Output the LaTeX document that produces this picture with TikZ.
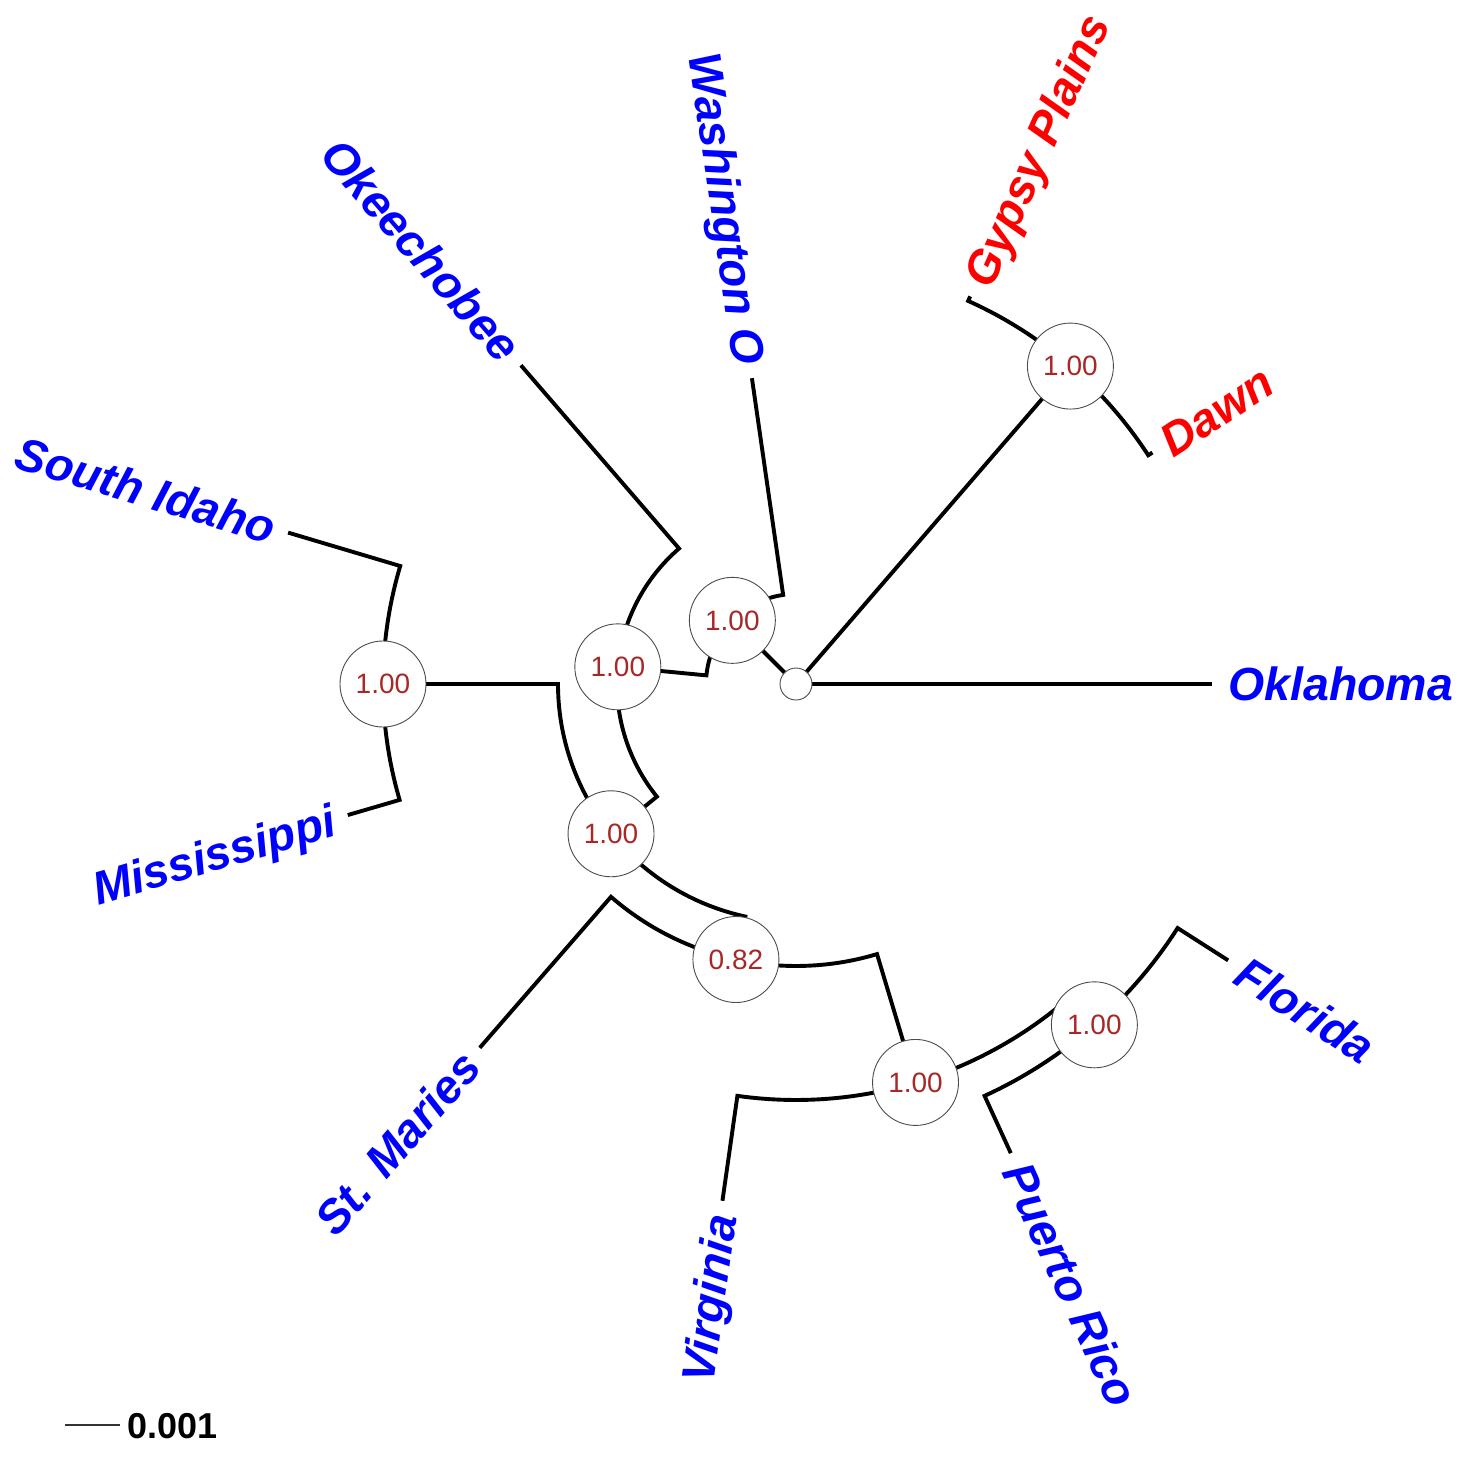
\documentclass[tikz,border=0pt]{standalone}
\usepackage{fontspec}
\setmainfont{Liberation Sans}
\definecolor{tipblue}{RGB}{0,0,255}
\definecolor{tipred}{RGB}{255,0,0}
\definecolor{suppred}{RGB}{168,40,40}
\tikzset{
  br/.style={line width=3.9pt, line cap=butt, line join=miter},
  tipl/.style={font=\fontsize{46.5}{50}\selectfont\bfseries\itshape, text=tipblue, inner sep=0pt, text height=33.3pt, text depth=0pt},
  redtip/.style={tipl, text=tipred},
  supp/.style={circle, draw=black!70, line width=0.9pt, fill=white, minimum size=86pt, inner sep=0pt, font=\fontsize{28}{30}\selectfont, text=suppred},
  rootdot/.style={circle, draw=black!70, line width=0.9pt, fill=white, minimum size=32pt, inner sep=0pt},
}
\begin{document}
\begin{tikzpicture}[x=1pt,y=1pt]
\useasboundingbox (-796,-778) rectangle (681,684);
% internal nodes
\coordinate (root) at (0,0);
\coordinate (gd) at (49.2:420);
\coordinate (nA) at (135:90);
\coordinate (nB) at (174.5:179);
\coordinate (nC) at (219:238);
\coordinate (nD) at (180:413);
\coordinate (nE) at (257.7:282);
\coordinate (nF) at (286.7:416);
\coordinate (nG) at (311.2:453);
% tips
\coordinate (okT) at (0:416);
\coordinate (gyT) at (65.8:425);
\coordinate (daT) at (33:425);
\coordinate (waT) at (98.2:309);
\coordinate (keT) at (130.8:421);
\coordinate (siT) at (163.4:530);
\coordinate (miT) at (196.3:467);
\coordinate (smT) at (229:482);
\coordinate (viT) at (261.9:522);
\coordinate (prT) at (294.6:516);
\coordinate (flT) at (327.4:513);
% branches
\draw[br] (root) -- (okT);
\draw[br] (root) -- (gd);
\draw[br] (gd) arc[start angle=49.2,end angle=65.8,radius=420] -- (gyT);
\draw[br] (gd) arc[start angle=49.2,end angle=33,radius=420] -- (daT);
\draw[br] (root) -- (nA);
\draw[br] (nA) arc[start angle=135,end angle=98.2,radius=90] -- (waT);
\draw[br] (nA) arc[start angle=135,end angle=174.5,radius=90] -- (nB);
\draw[br] (nB) arc[start angle=174.5,end angle=130.8,radius=179] -- (keT);
\draw[br] (nB) arc[start angle=174.5,end angle=219,radius=179] -- (nC);
\draw[br] (nC) arc[start angle=219,end angle=180,radius=238] -- (nD);
\draw[br] (nC) arc[start angle=219,end angle=257.7,radius=238] -- (nE);
\draw[br] (nD) arc[start angle=180,end angle=163.4,radius=413] -- (siT);
\draw[br] (nD) arc[start angle=180,end angle=196.3,radius=413] -- (miT);
\draw[br] (nE) arc[start angle=257.7,end angle=229,radius=282] -- (smT);
\draw[br] (nE) arc[start angle=257.7,end angle=286.7,radius=282] -- (nF);
\draw[br] (nF) arc[start angle=286.7,end angle=261.9,radius=416] -- (viT);
\draw[br] (nF) arc[start angle=286.7,end angle=311.2,radius=416] -- (nG);
\draw[br] (nG) arc[start angle=311.2,end angle=294.6,radius=453] -- (prT);
\draw[br] (nG) arc[start angle=311.2,end angle=327.4,radius=453] -- (flT);
% tip labels
\node[tipl, anchor=west] (ok) at (0:432) {Oklahoma};
\node[redtip, anchor=west, rotate=65.8] (gy) at (65.8:439) {Gypsy Plains};
\node[redtip, anchor=west, rotate=33] (da) at (33:439) {Dawn};
\node[tipl, anchor=east, rotate=-81.8] (wa) at (98.2:323) {Washington O};
\node[tipl, anchor=east, rotate=-49.2] (ke) at (130.8:435) {Okeechobee};
\node[tipl, anchor=east, rotate=-16.6] (si) at (163.4:544) {South Idaho};
\node[tipl, anchor=east, rotate=16.3] (mi) at (196.3:481) {Mississippi};
\node[tipl, anchor=east, rotate=49] (sm) at (229:496) {St. Maries};
\node[tipl, anchor=east, rotate=81.9] (vi) at (261.9:536) {Virginia};
\node[tipl, anchor=west, rotate=-65.4] (pr) at (294.6:530) {Puerto Rico};
\node[tipl, anchor=west, rotate=-32.6] (fl) at (327.4:527) {Florida};
% support values
\node[supp] (sGD) at (gd) {1.00};
\node[supp] (sA) at (nA) {1.00};
\node[supp] (sB) at (nB) {1.00};
\node[supp] (sC) at (nC) {1.00};
\node[supp] (sD) at (nD) {1.00};
\node[supp] (sE) at (nE) {0.82};
\node[supp] (sF) at (nF) {1.00};
\node[supp] (sG) at (nG) {1.00};
\node[rootdot] (rootc) at (root) {};
% scale bar
\coordinate (sb1) at (-731,-741);
\coordinate (sb2) at (-676,-741);
\draw[line width=1.3pt, black!80] (sb1) -- (sb2);
\node[font=\fontsize{36}{40}\selectfont\bfseries, anchor=west, inner sep=0pt, text height=25.8pt, text depth=0pt] (sbl) at (-669,-742) {0.001};
\end{tikzpicture}
\end{document}
